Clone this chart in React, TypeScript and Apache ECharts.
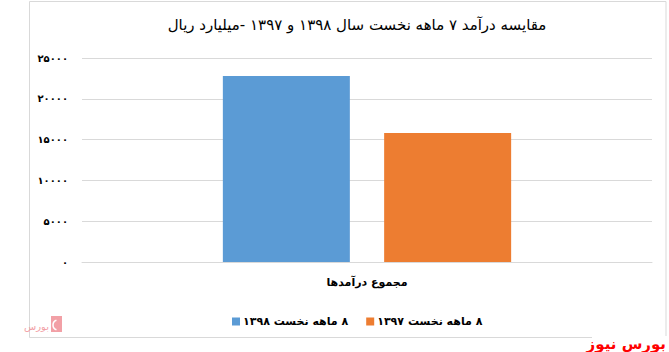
import React, { useEffect, useRef } from "react";
import * as echarts from "echarts";

const RLM = "\u200F";
const titleText = "مقایسه درآمد ۷ ماهه نخست سال ۱۳۹۸ و ۱۳۹۷ -میلیارد ریال";
const categories = ["مجموع درآمدها"];
const seriesNames = ["۸ ماهه نخست ۱۳۹۸", "۸ ماهه نخست ۱۳۹۷"];
const values1398 = [22800];
const values1397 = [15800];
const seriesColors = ["#5b9bd5", "#ed7d31"];
const yMax = 25000;
const yInterval = 5000;

const faDigits = ["۰", "۱", "۲", "۳", "۴", "۵", "۶", "۷", "۸", "۹"];
const toFa = (n: number) => String(n).replace(/[0-9]/g, (d) => faDigits[Number(d)]);

const FONT = "'DejaVu Sans', sans-serif";

export default function App() {
  const ref = useRef<HTMLDivElement>(null);
  useEffect(() => {
    if (!ref.current) return;
    const chart = echarts.init(ref.current, undefined, { renderer: "svg" });
    chart.setOption({
      animation: false,
      backgroundColor: "#ffffff",
      title: {
        text: RLM + titleText,
        left: 352,
        textAlign: "center",
        top: 12,
        textStyle: { fontFamily: FONT, fontSize: 15, fontWeight: "normal", color: "#000" },
      },
      legend: {
        data: seriesNames.map((n) => RLM + n),
        left: 227,
        top: 311,
        itemWidth: 8,
        itemHeight: 8,
        itemGap: 18,
        icon: "rect",
        textStyle: { fontFamily: FONT, fontSize: 11, fontWeight: "bold", color: "#000", padding: [0, 0, 0, -2] },
      },
      grid: { left: 82, right: 17, top: 58, bottom: 90 },
      xAxis: {
        type: "category",
        data: categories.map((c) => RLM + c),
        axisLine: { lineStyle: { color: "#d9d9d9" } },
        axisTick: { show: false },
        axisLabel: { margin: 15, fontFamily: FONT, fontSize: 11, fontWeight: "bold", color: "#000" },
      },
      yAxis: {
        type: "value",
        min: 0,
        max: yMax,
        interval: yInterval,
        axisLine: { show: false },
        axisTick: { show: false },
        splitLine: { lineStyle: { color: "#d9d9d9" } },
        axisLabel: {
          margin: 14,
          fontFamily: FONT,
          fontSize: 10,
          fontWeight: "bold",
          color: "#000",
          formatter: (v: number) => toFa(v),
        },
      },
      series: [
        {
          name: RLM + seriesNames[0],
          type: "bar",
          data: values1398,
          barWidth: 127,
          barGap: "27%",
          itemStyle: { color: seriesColors[0] },
        },
        {
          name: RLM + seriesNames[1],
          type: "bar",
          data: values1397,
          barWidth: 127,
          itemStyle: { color: seriesColors[1] },
        },
      ],
      graphic: [
        {
          type: "rect",
          shape: { x: 29.5, y: 1.5, width: 636.5, height: 336 },
          style: { fill: "none", stroke: "#d9d9d9", lineWidth: 1 },
          silent: true,
        },
        {
          type: "rect",
          shape: { x: 51, y: 316, width: 11, height: 16 },
          style: { fill: "#f2a0a6" },
          silent: true,
        },
        {
          type: "arc",
          shape: { cx: 58, cy: 325, r: 5, startAngle: Math.PI * 0.6, endAngle: Math.PI * 1.4 },
          style: { stroke: "#fff", lineWidth: 1.5, fill: "none" },
          silent: true,
        },
        {
          type: "text",
          x: 49,
          y: 326,
          style: {
            text: RLM + "بورس",
            fontFamily: FONT,
            fontSize: 10,
            fill: "#f2a0a6",
            align: "right",
            verticalAlign: "middle",
          },
          silent: true,
        },
        {
          type: "rect",
          shape: { x: 592, y: 336, width: 77, height: 16 },
          style: { fill: "#ffffff" },
          silent: true,
        },
        {
          type: "text",
          x: 666,
          y: 344,
          style: {
            text: RLM + "بورس نیوز",
            fontFamily: FONT,
            fontSize: 15,
            fontWeight: "bold",
            fill: "#ff0000",
            align: "right",
            verticalAlign: "middle",
          },
          silent: true,
        },
      ],
    });
    return () => chart.dispose();
  }, []);
  return (
    <div
      ref={ref}
      style={{ position: "fixed", left: 0, top: 0, width: 669, height: 352 }}
    />
  );
}
